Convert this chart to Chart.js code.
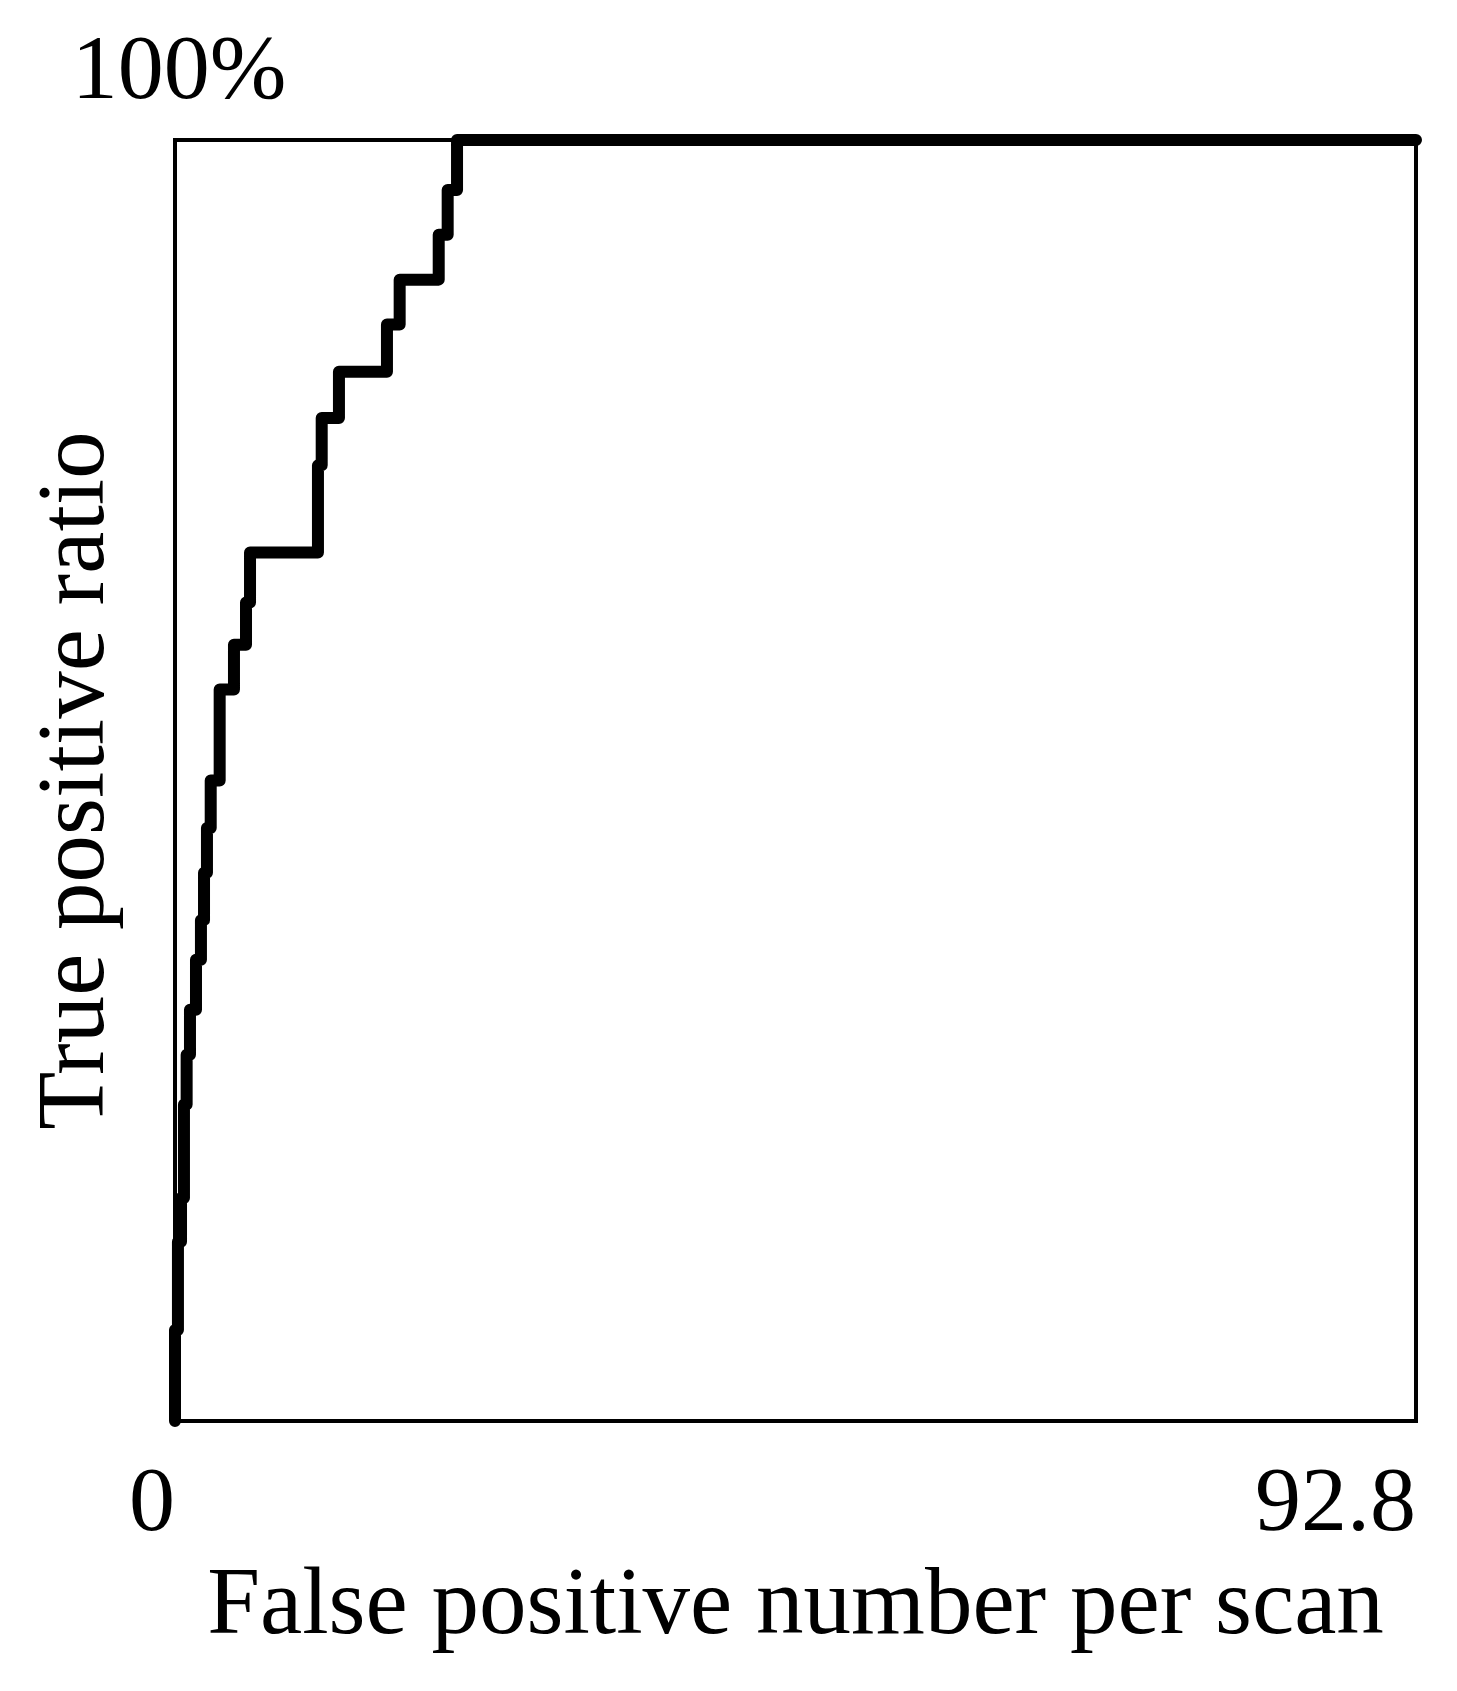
<!DOCTYPE html>
<html>
<head>
<meta charset="utf-8">
<script src="https://cdn.jsdelivr.net/npm/chart.js@4/dist/chart.umd.min.js"></script>
<style>
  html, body { margin: 0; padding: 0; background: #fff; }
  canvas { display: block; }
</style>
</head>
<body>
<canvas id="roc" width="1457" height="1691"></canvas>
<script>
// false positives per scan at each step (x), true positive ratio in % (y)
const fpPerScan = [0, 0, 0.22, 0.45, 0.67, 0.87, 1.12, 1.57, 1.94, 2.17, 2.39, 2.67, 3.34,
  4.41, 5.31, 5.61, 10.69, 10.97, 12.26, 15.85, 16.80, 19.72, 20.39, 21.09, 92.8];
const tpRatio = [0, 7.1, 14.0, 17.4, 24.7, 28.6, 32.1, 36.0, 39.1, 42.8, 46.3, 50.0, 57.1,
  60.6, 63.9, 67.8, 74.6, 78.3, 81.9, 85.6, 89.1, 92.6, 96.1, 100, 100];
const xTickValues = [0, 92.8];
const yTopLabel = '100%';

const serif = "'Liberation Serif', 'Times New Roman', serif";

const frame = {
  id: 'frame',
  beforeDatasetsDraw(chart) {
    const { ctx, chartArea: a } = chart;
    ctx.save();
    ctx.strokeStyle = '#000';
    ctx.lineWidth = 4;
    ctx.strokeRect(a.left, a.top, a.right - a.left, a.bottom - a.top);
    ctx.restore();
  },
  afterDraw(chart) {
    const { ctx } = chart;
    const x = chart.scales.x.getPixelForValue(0);
    const y = chart.scales.y.getPixelForValue(100);
    ctx.save();
    ctx.fillStyle = '#000';
    ctx.font = `92px ${serif}`;
    ctx.textAlign = 'center';
    ctx.textBaseline = 'alphabetic';
    ctx.fillText(yTopLabel, x + 4, y - 42);
    ctx.restore();
  }
};

new Chart(document.getElementById('roc'), {
  type: 'line',
  data: {
    datasets: [{
      data: fpPerScan.map((v, i) => ({ x: v, y: tpRatio[i] })),
      borderColor: '#000',
      borderWidth: 12,
      borderJoinStyle: 'round',
      borderCapStyle: 'round',
      stepped: 'before',
      pointRadius: 0,
      fill: false,
      clip: false
    }]
  },
  options: {
    responsive: false,
    animation: false,
    layout: { padding: { top: 140, right: 41, left: 0, bottom: 0 } },
    plugins: { legend: { display: false }, tooltip: { enabled: false } },
    scales: {
      x: {
        type: 'linear',
        min: 0,
        max: 92.8,
        grid: { display: false, drawTicks: false },
        border: { display: false },
        afterBuildTicks: (scale) => { scale.ticks = xTickValues.map(v => ({ value: v })); },
        afterFit: (scale) => { scale.height = 270; },
        ticks: {
          color: '#000',
          align: 'end',
          maxRotation: 0,
          autoSkip: false,
          padding: 39,
          font: { family: serif, size: 92, lineHeight: 1 },
          callback: (v) => String(v)
        },
        title: {
          display: true,
          text: 'False positive number per scan',
          color: '#000',
          font: { family: serif, size: 95, lineHeight: 1 },
          padding: { top: 0, bottom: 35 }
        }
      },
      y: {
        min: 0,
        max: 100,
        grid: { display: false, drawTicks: false },
        border: { display: false },
        ticks: { display: false },
        afterFit: (scale) => { scale.width = 175; },
        title: {
          display: true,
          text: 'True positive ratio',
          color: '#000',
          font: { family: serif, size: 95, lineHeight: 1 },
          padding: { top: 31, bottom: 0 }
        }
      }
    }
  },
  plugins: [frame]
});
</script>
</body>
</html>
